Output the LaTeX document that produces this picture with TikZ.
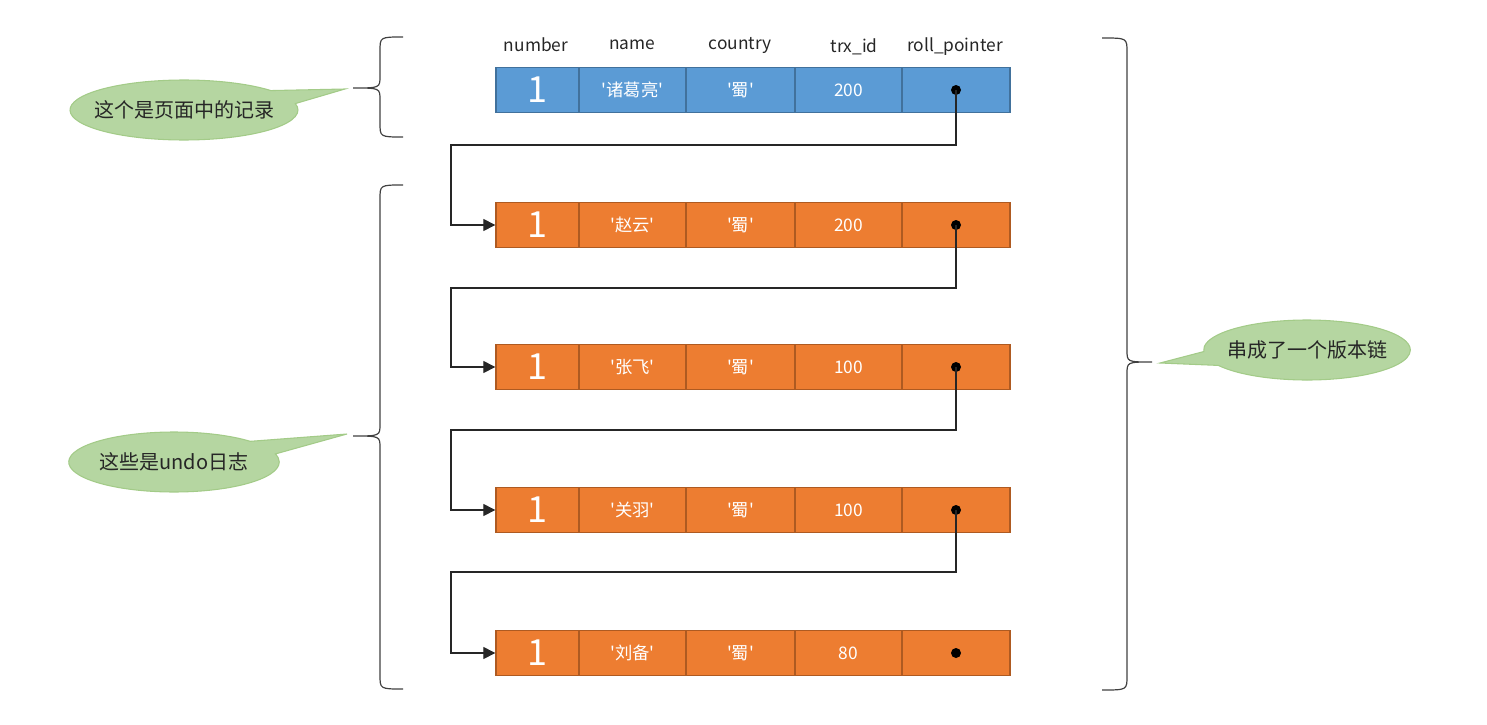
\documentclass[tikz,border=0pt]{standalone}
\usepackage{fontspec}
\newfontfamily\cn{Noto Sans CJK SC}
\usetikzlibrary{shapes.callouts,arrows.meta}
\definecolor{bluefill}{HTML}{5B9BD5}
\definecolor{blueline}{HTML}{41719C}
\definecolor{orfill}{HTML}{ED7D31}
\definecolor{orline}{HTML}{AE5A21}
\definecolor{grfill}{HTML}{B5D6A1}
\definecolor{grline}{HTML}{A3CB88}
\definecolor{txt}{HTML}{262626}
\tikzset{
  cell/.style={draw, line width=1pt, minimum height=33.75pt, inner sep=0pt, text=white, font=\cn\fontsize{13}{15}\selectfont},
  blue/.style={fill=bluefill, draw=blueline},
  orange/.style={fill=orfill, draw=orline},
  cA/.style={minimum width=62.25pt, font=\cn\fontsize{27}{30}\selectfont},
  cB/.style={minimum width=80.25pt},
  cC/.style={minimum width=81.75pt},
  cD/.style={minimum width=80.25pt},
  cE/.style={minimum width=81pt},
  dot/.style={circle, fill=black, inner sep=0pt, minimum size=7.5pt},
  hdr/.style={font=\cn\fontsize{13}{15}\selectfont, text=txt, inner sep=1pt},
  link/.style={line width=0.9pt, draw=black!85, -{Triangle[length=9pt,width=9pt]}},
  bracestyle/.style={line width=0.9pt, draw=black!75},
  bubble/.style={ellipse callout, fill=grfill, draw=grline, line width=0.8pt, inner ysep=0pt, callout pointer arc=28, font=\cn\fontsize{15}{18}\selectfont, text=txt}
}
\newcommand\recrow[5]{%
  \node[cell,#3,cA] (#1a) at (537.5,#2) {1};
  \node[cell,#3,cB] (#1b) at (632.5,#2) {'#4'};
  \node[cell,#3,cC] (#1c) at (740.5,#2) {'蜀'};
  \node[cell,#3,cD] (#1t) at (848.5,#2) {#5};
  \node[cell,#3,cE] (#1e) at (956,#2) {};
  \node[dot] (#1d) at (956,#2) {};
}
\newcommand\curlyb[6]{%
  \draw[bracestyle] (#1,#4) .. controls (#2,#4) .. (#2,#4+14) -- (#2,#5-12)
    .. controls (#2,#5) .. (#3,#5) .. controls (#2,#5) .. (#2,#5+12)
    -- (#2,#6-14) .. controls (#2,#6) .. (#1,#6);
}
\begin{document}
\begin{tikzpicture}[x=0.75pt,y=-0.75pt]
\useasboundingbox (0,0) rectangle (1487,724);
% headers
\node[hdr] (hnum) at (536,45) {number};
\node[hdr] (hname) at (632,45) {name};
\node[hdr] (hcty) at (740,45) {country};
\node[hdr] (htrx) at (854,47) {trx\_id};
\node[hdr] (hroll) at (955,47) {roll\_pointer};
% rows
\recrow{r1}{90}{blue}{诸葛亮}{200}
\recrow{r2}{225}{orange}{赵云}{200}
\recrow{r3}{367}{orange}{张飞}{100}
\recrow{r4}{510}{orange}{关羽}{100}
\recrow{r5}{653}{orange}{刘备}{80}
% bends
\coordinate (b1) at (451,145);
\coordinate (b2) at (451,288);
\coordinate (b3) at (451,430);
\coordinate (b4) at (451,572);
\draw[link] (r1d.center) |- (b1) |- (r2a.west);
\draw[link] (r2d.center) |- (b2) |- (r3a.west);
\draw[link] (r3d.center) |- (b3) |- (r4a.west);
\draw[link] (r4d.center) |- (b4) |- (r5a.west);
% braces
\curlyb{403}{380}{353}{37}{88}{137}
\curlyb{403}{380}{353}{185}{436}{689}
\curlyb{1102}{1127}{1152}{38}{362}{690}
% callouts
\node[bubble, inner xsep=-7.7pt, minimum width=171pt, minimum height=45pt, callout absolute pointer={(345,89)}] (c1) at (184,110) {这个是页面中的记录};
\node[bubble, inner xsep=0pt, minimum width=155pt, minimum height=45pt, callout absolute pointer={(347,434)}] (c2) at (174,462) {这些是undo日志};
\node[bubble, inner xsep=-5.6pt, minimum width=155pt, minimum height=45pt, callout absolute pointer={(1160,363)}] (c3) at (1307,350) {串成了一个版本链};
\end{tikzpicture}
\end{document}
